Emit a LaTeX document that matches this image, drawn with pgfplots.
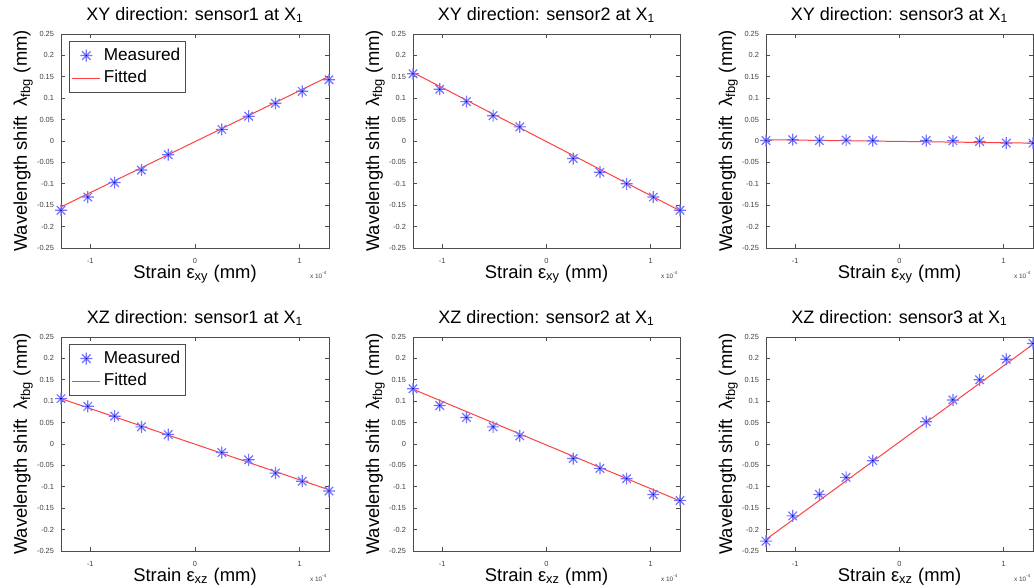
\documentclass[border=0pt]{standalone}
\usepackage{fontspec}
\setmainfont{Liberation Sans}
\usepackage{pgfplots}
\pgfplotsset{compat=1.18}

% MATLAB-like '*' marker: eight arms and a small dark centre
\pgfdeclareplotmark{mstar}{%
  \pgfpathmoveto{\pgfpoint{-\pgfplotmarksize}{0pt}}\pgfpathlineto{\pgfpoint{\pgfplotmarksize}{0pt}}%
  \pgfpathmoveto{\pgfpoint{0pt}{-\pgfplotmarksize}}\pgfpathlineto{\pgfpoint{0pt}{\pgfplotmarksize}}%
  \pgfpathmoveto{\pgfpoint{-0.707\pgfplotmarksize}{-0.707\pgfplotmarksize}}\pgfpathlineto{\pgfpoint{0.707\pgfplotmarksize}{0.707\pgfplotmarksize}}%
  \pgfpathmoveto{\pgfpoint{-0.707\pgfplotmarksize}{0.707\pgfplotmarksize}}\pgfpathlineto{\pgfpoint{0.707\pgfplotmarksize}{-0.707\pgfplotmarksize}}%
  \pgfusepathqstroke
  \pgfpathcircle{\pgfpointorigin}{0.45pt}\pgfusepathqfill
}

\pgfplotsset{
  panel/.style={
    scale only axis, anchor=south west, width=134pt, height=107pt,
    xmin=-1.28e-4, xmax=1.28e-4, ymin=-0.25, ymax=0.25,
    xtick={-1e-4,0,1e-4}, xticklabels={-1,0,1},
    ytick={-0.25,-0.2,-0.15,-0.1,-0.05,0,0.05,0.1,0.15,0.2,0.25},
    scaled x ticks=false, scaled y ticks=false,
    /pgf/number format/assume math mode=true,
    yticklabel style={/pgf/number format/fixed, /pgf/number format/precision=2},
    ticklabel style={font=\fontsize{3.7}{4}\selectfont, text=black!75},
    xticklabel style={yshift=-1.5pt},
    tick align=inside, tick pos=both, major tick length=2pt,
    axis line style={black!70, line width=0.4pt}, tick style={black!70, line width=0.4pt},
    clip=false,
    title style={font=\fontsize{9}{11}\selectfont, at={(axis description cs:0.5,1)}, anchor=base, yshift=0.8pt},
    xlabel style={font=\fontsize{9.2}{11}\selectfont, at={(axis description cs:0.5,0)}, anchor=base, yshift=-15.5pt},
    ylabel style={font=\fontsize{9.2}{11}\selectfont, at={(axis description cs:0,0.5)}, anchor=base, yshift=17pt},
    ylabel={Wavelength shift~ λ\textsubscript{fbg} (mm)},
    extra description/.code={
      \node[anchor=mid east, inner sep=0pt, font=\fontsize{3.2}{3.5}\selectfont, text=black!75]
        at (axis description cs:0.995,-0.117) {x 10\textsuperscript{-4}};},
    legend style={at={(0.03,0.967)}, anchor=north west, draw=black!70, line width=0.4pt,
      font=\fontsize{8.6}{10}\selectfont, inner sep=1.2pt, row sep=-0.5pt,
      nodes={inner xsep=1.5pt}},
    legend image code/.code={\draw[mark repeat=2,mark phase=2,#1]
      plot coordinates {(0pt,0pt) (7pt,0pt) (14pt,0pt)};},
    legend cell align=left,
  },
  meas/.style={only marks, mark=mstar, mark size=3pt,
    mark options={draw=blue!55, fill=blue!60!black, line width=0.6pt}},
  fit/.style={red!75, line width=0.5pt, mark=none},
}

\begin{document}
\begin{tikzpicture}
\useasboundingbox (0,0) rectangle (517pt,294pt);

% ---- XY direction ----
\begin{axis}[panel, at={(30.5pt,170pt)},
  title={XY direction: sensor1 at X\textsubscript{1}}, xlabel={Strain ε\textsubscript{xy} (mm)}]
\addplot[meas] coordinates {(-1.28e-4,-0.162) (-1.024e-4,-0.131) (-0.768e-4,-0.097) (-0.512e-4,-0.068) (-0.256e-4,-0.032)
  (0.256e-4,0.027) (0.512e-4,0.058) (0.768e-4,0.088) (1.024e-4,0.116) (1.28e-4,0.143)};
\addplot[fit] coordinates {(-1.28e-4,-0.154) (1.28e-4,0.151)};
\legend{Measured,Fitted}
\end{axis}

\begin{axis}[panel, at={(206.5pt,170pt)}, width=133.5pt,
  title={XY direction: sensor2 at X\textsubscript{1}}, xlabel={Strain ε\textsubscript{xy} (mm)}]
\addplot[meas] coordinates {(-1.28e-4,0.157) (-1.024e-4,0.121) (-0.768e-4,0.092) (-0.512e-4,0.059) (-0.256e-4,0.033)
  (0.256e-4,-0.041) (0.512e-4,-0.073) (0.768e-4,-0.100) (1.024e-4,-0.131) (1.28e-4,-0.162)};
\addplot[fit] coordinates {(-1.28e-4,0.160) (1.28e-4,-0.163)};
\end{axis}

\begin{axis}[panel, at={(383pt,170pt)}, width=133.5pt,
  title={XY direction: sensor3 at X\textsubscript{1}}, xlabel={Strain ε\textsubscript{xy} (mm)}]
\addplot[meas] coordinates {(-1.28e-4,0.001) (-1.024e-4,0.003) (-0.768e-4,0.001) (-0.512e-4,0.002) (-0.256e-4,0.001)
  (0.256e-4,0.001) (0.512e-4,0.0005) (0.768e-4,-0.001) (1.024e-4,-0.005) (1.28e-4,-0.005)};
\addplot[fit] coordinates {(-1.28e-4,0.003) (1.28e-4,-0.005)};
\end{axis}

% ---- XZ direction ----
\begin{axis}[panel, at={(30.5pt,18.5pt)},
  title={XZ direction: sensor1 at X\textsubscript{1}}, xlabel={Strain ε\textsubscript{xz} (mm)}]
\addplot[meas] coordinates {(-1.28e-4,0.106) (-1.024e-4,0.088) (-0.768e-4,0.065) (-0.512e-4,0.040) (-0.256e-4,0.022)
  (0.256e-4,-0.020) (0.512e-4,-0.037) (0.768e-4,-0.068) (1.024e-4,-0.087) (1.28e-4,-0.110)};
\addplot[fit] coordinates {(-1.28e-4,0.106) (1.28e-4,-0.107)};
\legend{Measured,Fitted}
\end{axis}

\begin{axis}[panel, at={(206.5pt,18.5pt)}, width=133.5pt,
  title={XZ direction: sensor2 at X\textsubscript{1}}, xlabel={Strain ε\textsubscript{xz} (mm)}]
\addplot[meas] coordinates {(-1.28e-4,0.129) (-1.024e-4,0.090) (-0.768e-4,0.062) (-0.512e-4,0.040) (-0.256e-4,0.019)
  (0.256e-4,-0.034) (0.512e-4,-0.057) (0.768e-4,-0.081) (1.024e-4,-0.118) (1.28e-4,-0.132)};
\addplot[fit] coordinates {(-1.28e-4,0.128) (1.28e-4,-0.133)};
\end{axis}

\begin{axis}[panel, at={(383pt,18.5pt)}, width=133.5pt,
  title={XZ direction: sensor3 at X\textsubscript{1}}, xlabel={Strain ε\textsubscript{xz} (mm)}]
\addplot[meas] coordinates {(-1.28e-4,-0.227) (-1.024e-4,-0.168) (-0.768e-4,-0.118) (-0.512e-4,-0.078) (-0.256e-4,-0.039)
  (0.256e-4,0.052) (0.512e-4,0.103) (0.768e-4,0.150) (1.024e-4,0.198) (1.28e-4,0.235)};
\addplot[fit] coordinates {(-1.28e-4,-0.223) (1.28e-4,0.233)};
\end{axis}
\end{tikzpicture}
\end{document}
